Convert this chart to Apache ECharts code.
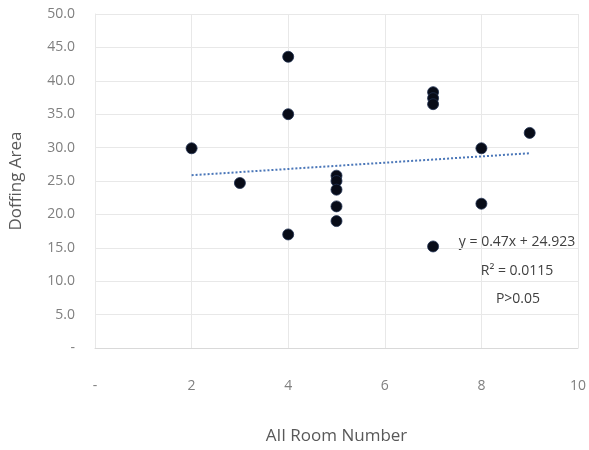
<!DOCTYPE html>
<html>
<head>
<meta charset="utf-8">
<script src="https://cdn.jsdelivr.net/npm/echarts@6/dist/echarts.min.js"></script>
<style>html,body{margin:0;padding:0;background:#fff}#c{width:589px;height:450px}</style>
</head>
<body>
<div id="c"></div>
<script>
const roomNumbers = [2, 3, 4, 4, 4, 5, 5, 5, 5, 5, 7, 7, 7, 7, 8, 8, 9];
const doffingArea = [29.9, 24.7, 43.6, 35.0, 17.0, 25.8, 25.0, 23.7, 21.2, 19.0, 38.3, 37.4, 36.5, 15.2, 29.9, 21.6, 32.2];
const trendSlope = 0.47;
const trendIntercept = 24.923;
const trendRange = [2, 9];
const equationLines = ['y = 0.47x + 24.923', 'R\u00B2 = 0.0115', 'P>0.05'];

const points = roomNumbers.map((x, i) => [x, doffingArea[i]]);
const trend = trendRange.map(x => [x, trendSlope * x + trendIntercept]);
const font = "'Open Sans', 'Noto Sans', sans-serif";

const chart = echarts.init(document.getElementById('c'));
chart.setOption({
  animation: false,
  grid: { left: 94, right: 10, top: 14, bottom: 100, containLabel: false },
  xAxis: {
    type: 'value', min: 0, max: 10, interval: 2,
    name: 'AII Room Number', nameLocation: 'middle', nameGap: 80,
    nameTextStyle: { color: '#595959', fontSize: 17, fontFamily: font },
    axisLine: { show: true, lineStyle: { color: '#d9d9d9' } },
    axisTick: { show: false },
    axisLabel: { color: '#7f7f7f', fontSize: 14, fontFamily: font, margin: 31,
      formatter: v => v === 0 ? '-' : String(v) },
    splitLine: { show: true, lineStyle: { color: '#e8e8e8' } }
  },
  yAxis: {
    type: 'value', min: 0, max: 50, interval: 5,
    name: 'Doffing Area', nameLocation: 'middle', nameGap: 70,
    nameTextStyle: { color: '#595959', fontSize: 17, fontFamily: font },
    axisLine: { show: true, lineStyle: { color: '#e8e8e8' } },
    axisTick: { show: false },
    axisLabel: { color: '#7f7f7f', fontSize: 14, fontFamily: font, margin: 20,
      formatter: v => v === 0 ? '-' : v.toFixed(1) },
    splitLine: { show: true, lineStyle: { color: '#e8e8e8' } }
  },
  series: [
    {
      type: 'line', data: trend, symbol: 'none', silent: true,
      lineStyle: { color: '#4a76b8', width: 2, type: [2, 2] },
      z: 1
    },
    {
      type: 'scatter', data: points, symbolSize: 11,
      itemStyle: { color: '#080c18', borderColor: '#1f3050', borderWidth: 0.8, opacity: 1 },
      z: 2
    }
  ],
  graphic: [
    { type: 'text', x: 517, y: 242, style: { text: equationLines[0], fill: '#404040', font: '14px ' + font, textAlign: 'center', textVerticalAlign: 'middle' } },
    { type: 'text', x: 517, y: 271, style: { text: equationLines[1], fill: '#404040', font: '14px ' + font, textAlign: 'center', textVerticalAlign: 'middle' } },
    { type: 'text', x: 518, y: 299, style: { text: equationLines[2], fill: '#404040', font: '14px ' + font, textAlign: 'center', textVerticalAlign: 'middle' } }
  ]
});
</script>
</body>
</html>
